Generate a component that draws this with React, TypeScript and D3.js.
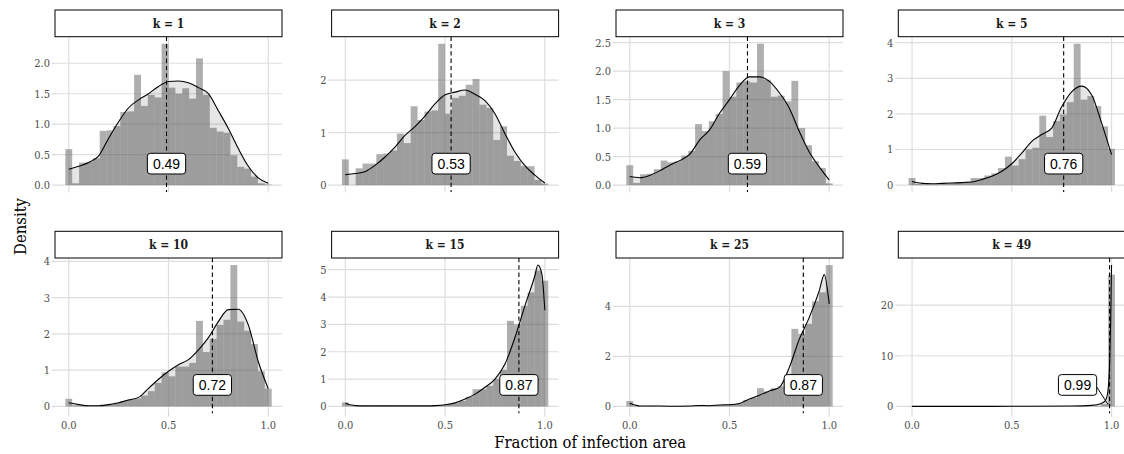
import React from 'react';
import * as d3 from 'd3';

// Histogram bins: 30 bins centred on 0, 1/29, ..., 1
const BIN_COUNT = 30;

const PANEL_LABELS = ['k = 1', 'k = 2', 'k = 3', 'k = 5', 'k = 10', 'k = 15', 'k = 25', 'k = 49'];
const MEANS = [0.49, 0.53, 0.59, 0.76, 0.72, 0.87, 0.87, 0.99];
const FRACTION_TICKS = [0, 0.5, 1];

const Y_TICKS = [
  [0, 0.5, 1, 1.5, 2],
  [0, 1, 2],
  [0, 0.5, 1, 1.5, 2, 2.5],
  [0, 1, 2, 3, 4],
  [0, 1, 2, 3, 4],
  [0, 1, 2, 3, 4, 5],
  [0, 2, 4],
  [0, 10, 20],
];

// Histogram densities per bin
const k1Hist = [0.59, 0.03, 0.37, 0.38, 0.44, 0.89, 0.9, 0.97, 1.2, 1.21, 1.81, 1.3, 1.48, 1.44, 2.32, 1.6, 1.5, 1.59, 1.42, 2.08, 1.48, 0.94, 0.88, 0.86, 0.49, 0.3, 0.27, 0.14, 0.03, 0.01];
const k2Hist = [0.49, 0.0, 0.32, 0.41, 0.41, 0.59, 0.6, 0.66, 0.98, 0.8, 1.5, 1.24, 1.4, 1.42, 2.69, 1.36, 1.66, 1.7, 1.91, 2.02, 1.53, 1.47, 0.86, 1.12, 0.56, 0.46, 0.36, 0.36, 0.1, 0.03];
const k3Hist = [0.35, 0.04, 0.19, 0.2, 0.28, 0.43, 0.4, 0.42, 0.52, 0.6, 1.07, 0.95, 1.12, 1.25, 2.0, 1.55, 1.8, 1.82, 1.8, 2.48, 1.85, 1.55, 1.57, 1.47, 1.83, 1.0, 0.7, 0.42, 0.3, 0.03];
const k5Hist = [0.2, 0.03, 0.02, 0.02, 0.03, 0.03, 0.05, 0.07, 0.1, 0.2, 0.2, 0.27, 0.33, 0.48, 0.8, 0.55, 0.73, 1.0, 1.05, 1.95, 1.35, 1.8, 1.98, 2.33, 3.97, 2.4, 2.5, 2.22, 1.65, 1.02];
const k10Hist = [0.21, 0.03, 0.02, 0.02, 0.03, 0.05, 0.05, 0.1, 0.15, 0.2, 0.22, 0.3, 0.42, 0.65, 0.94, 0.83, 1.1, 1.1, 1.2, 2.36, 1.5, 1.86, 2.25, 2.39, 3.9, 2.34, 2.09, 1.72, 0.97, 0.49];
const k15Hist = [0.15, 0.02, 0.01, 0.02, 0.01, 0.02, 0.02, 0.01, 0.02, 0.01, 0.02, 0.02, 0.02, 0.03, 0.05, 0.08, 0.12, 0.2, 0.35, 0.63, 0.63, 0.75, 1.0, 1.34, 3.13, 3.0, 3.68, 4.17, 4.96, 4.6];
const k25Hist = [0.22, 0.02, 0.01, 0.02, 0.01, 0.02, 0.01, 0.02, 0.02, 0.01, 0.03, 0.02, 0.03, 0.05, 0.06, 0.1, 0.12, 0.25, 0.35, 0.73, 0.6, 0.73, 0.8, 1.2, 3.1, 2.9, 3.3, 4.2, 4.56, 5.65];
const k49Hist = [0.05, 0.01, 0.01, 0.01, 0.01, 0.01, 0.01, 0.01, 0.01, 0.01, 0.01, 0.01, 0.01, 0.01, 0.01, 0.01, 0.01, 0.01, 0.01, 0.01, 0.01, 0.02, 0.02, 0.02, 0.03, 0.04, 0.05, 0.1, 0.45, 26.0];

// Kernel density estimates as [fraction, density]
const k1Density = [[0, 0.26], [0.05, 0.31], [0.1, 0.37], [0.15, 0.48], [0.2, 0.77], [0.25, 1.04], [0.3, 1.27], [0.35, 1.4], [0.4, 1.5], [0.45, 1.62], [0.5, 1.7], [0.55, 1.71], [0.6, 1.68], [0.65, 1.6], [0.7, 1.5], [0.75, 1.22], [0.8, 0.93], [0.85, 0.6], [0.9, 0.31], [0.95, 0.12], [1, 0.03]];
const k2Density = [[0, 0.2], [0.05, 0.22], [0.1, 0.26], [0.15, 0.38], [0.2, 0.54], [0.25, 0.73], [0.3, 0.95], [0.35, 1.12], [0.4, 1.32], [0.45, 1.55], [0.5, 1.72], [0.55, 1.77], [0.6, 1.81], [0.65, 1.73], [0.7, 1.61], [0.75, 1.36], [0.8, 0.98], [0.85, 0.63], [0.9, 0.37], [0.95, 0.19], [1, 0.04]];
const k3Density = [[0, 0.15], [0.05, 0.13], [0.1, 0.17], [0.15, 0.25], [0.2, 0.35], [0.25, 0.43], [0.3, 0.54], [0.35, 0.79], [0.4, 0.97], [0.45, 1.26], [0.5, 1.5], [0.55, 1.75], [0.6, 1.9], [0.65, 1.9], [0.7, 1.82], [0.75, 1.62], [0.8, 1.35], [0.85, 0.94], [0.9, 0.58], [0.95, 0.32], [1, 0.09]];
const k5Density = [[0, 0.1], [0.05, 0.05], [0.1, 0.04], [0.15, 0.05], [0.2, 0.06], [0.25, 0.07], [0.3, 0.09], [0.35, 0.16], [0.4, 0.25], [0.45, 0.39], [0.5, 0.6], [0.55, 0.9], [0.6, 1.23], [0.65, 1.42], [0.7, 1.6], [0.75, 2.2], [0.8, 2.62], [0.85, 2.78], [0.9, 2.54], [0.95, 1.75], [1, 0.86]];
const k10Density = [[0, 0.1], [0.05, 0.05], [0.1, 0.02], [0.15, 0.02], [0.2, 0.05], [0.25, 0.1], [0.3, 0.18], [0.35, 0.25], [0.4, 0.5], [0.45, 0.75], [0.5, 0.97], [0.55, 1.15], [0.6, 1.29], [0.65, 1.56], [0.7, 1.9], [0.75, 2.34], [0.8, 2.67], [0.85, 2.68], [0.9, 2.25], [0.95, 1.24], [1, 0.49]];
const k15Density = [[0, 0.12], [0.03, 0.05], [0.05, 0.03], [0.1, 0.02], [0.2, 0.02], [0.3, 0.02], [0.4, 0.02], [0.45, 0.03], [0.5, 0.06], [0.55, 0.13], [0.6, 0.27], [0.65, 0.45], [0.7, 0.7], [0.75, 1.0], [0.8, 1.55], [0.85, 2.52], [0.9, 3.68], [0.95, 4.78], [0.965, 5.17], [0.985, 4.84], [1, 3.52]];
const k25Density = [[0, 0.13], [0.03, 0.05], [0.05, 0.02], [0.1, 0.02], [0.2, 0.01], [0.3, 0.02], [0.35, 0.04], [0.4, 0.03], [0.45, 0.06], [0.5, 0.07], [0.55, 0.12], [0.6, 0.3], [0.65, 0.45], [0.7, 0.62], [0.75, 0.76], [0.8, 1.56], [0.85, 2.69], [0.9, 3.56], [0.95, 4.63], [0.975, 5.27], [1, 4.1]];
const k49Density = [[0, 0.02], [0.2, 0.01], [0.4, 0.02], [0.6, 0.03], [0.8, 0.08], [0.9, 0.2], [0.95, 0.6], [0.97, 1.2], [0.98, 2.5], [0.99, 8], [0.995, 16], [1, 27.9]];

const HISTS = [k1Hist, k2Hist, k3Hist, k5Hist, k10Hist, k15Hist, k25Hist, k49Hist];
const DENSITIES = [k1Density, k2Density, k3Density, k5Density, k10Density, k15Density, k25Density, k49Density];

// Facet layout
const COL_LEFT = [55, 331.6, 616, 898.3];
const ROW_STRIP_TOP = [10, 231.3];
const PANEL_W = 227;
const STRIP_H = 26.7;
const PANEL_H = 155.5;

const SERIF = "'DejaVu Serif Condensed', 'DejaVu Serif', serif";
const SANS = "'Liberation Sans', Arial, sans-serif";
const AXIS_GREY = '#4d4d4d';
const GRID = '#dedede';

const binWidth = 1 / (BIN_COUNT - 1);
const xLo = -binWidth / 2;
const xHi = 1 + binWidth / 2;
const xPad = 0.05 * (xHi - xLo);

function labelWidth(text: string, size: number) {
  let w = 0;
  for (const ch of text) w += ch === '.' ? 0.278 : 0.556;
  return w * size;
}

function Panel({ index }: { index: number }) {
  const row = Math.floor(index / 4);
  const col = index % 4;
  const left = COL_LEFT[col];
  const stripTop = ROW_STRIP_TOP[row];
  const top = stripTop + STRIP_H;
  const bottom = top + PANEL_H;
  const right = left + PANEL_W;

  const hist = HISTS[index];
  const dens = DENSITIES[index] as [number, number][];
  const mean = MEANS[index];
  const ticks = Y_TICKS[index];

  const x = d3.scaleLinear().domain([xLo - xPad, xHi + xPad]).range([left, right]);
  const yMax = Math.max(d3.max(hist) as number, d3.max(dens, (d) => d[1]) as number);
  const y = d3.scaleLinear().domain([-0.05 * yMax, 1.05 * yMax]).range([bottom, top]);

  const decimals = ticks.some((t) => !Number.isInteger(t));
  const fmt = decimals ? d3.format('.1f') : d3.format('d');

  const line = d3.line<[number, number]>().x((d) => x(d[0])).y((d) => y(d[1])).curve(d3.curveMonotoneX);
  const area = d3.area<[number, number]>().x((d) => x(d[0])).y0(y(0)).y1((d) => y(d[1])).curve(d3.curveMonotoneX);

  const clipId = `panel-clip-${index}`;

  // Mean label: boxed value anchored at (mean, 0), lifted above the baseline
  const labelText = d3.format('.2f')(mean);
  const lw = labelWidth(labelText, 14) + 11;
  const lh = 20.7;
  let cx = x(mean);
  const cy = y(0) - 21.5;
  const repelled = cx + lw / 2 > right - 6;
  if (repelled) cx = x(mean) - 32;

  return (
    <g>
      <defs>
        <clipPath id={clipId}>
          <rect x={left} y={top} width={PANEL_W} height={PANEL_H} />
        </clipPath>
      </defs>
      {/* grid */}
      {ticks.map((t) => (
        <line key={`h${t}`} x1={left} x2={right} y1={y(t)} y2={y(t)} stroke={GRID} strokeWidth={1.2} />
      ))}
      {FRACTION_TICKS.map((t) => (
        <line key={`v${t}`} x1={x(t)} x2={x(t)} y1={top} y2={bottom} stroke={GRID} strokeWidth={1.2} />
      ))}
      <g clipPath={`url(#${clipId})`}>
        {/* histogram */}
        {hist.map((v, i) => {
          const c = i * binWidth;
          return (
            <rect
              key={i}
              x={x(c - binWidth / 2)}
              width={x(c + binWidth / 2) - x(c - binWidth / 2)}
              y={y(v)}
              height={Math.max(0, y(0) - y(v))}
              fill="#606060"
              fillOpacity={0.5}
            />
          );
        })}
        {/* density */}
        <path d={area(dens) || ''} fill="#000" fillOpacity={0.1} />
        <path d={line(dens) || ''} fill="none" stroke="#000" strokeWidth={1.1} />
        {/* mean */}
        <line x1={x(mean)} x2={x(mean)} y1={top} y2={bottom} stroke="#000" strokeWidth={1.1} strokeDasharray="4.3,3" />
        {repelled && (
          <line x1={cx + lw / 2} y1={cy + 2} x2={x(mean) - 1.5} y2={y(0) - 2} stroke="#000" strokeWidth={1} />
        )}
        <rect x={cx - lw / 2} y={cy - lh / 2} width={lw} height={lh} rx={3} fill="#fff" stroke="#000" strokeWidth={1} />
        <text x={cx} y={cy} dy="0.36em" textAnchor="middle" fontFamily={SANS} fontSize={14} fill="#000">
          {labelText}
        </text>
      </g>
      {/* strip */}
      <rect x={left} y={stripTop} width={PANEL_W} height={STRIP_H} fill="#fff" stroke="#000" strokeWidth={1} />
      <text x={(left + right) / 2} y={stripTop + STRIP_H / 2} dy="0.36em" textAnchor="middle" fontFamily={SERIF} fontSize={12} fontWeight="bold" fill="#1a1a1a">
        {PANEL_LABELS[index]}
      </text>
      {/* y axis */}
      {ticks.map((t) => (
        <g key={`yt${t}`}>
          <line x1={left - 3} x2={left} y1={y(t)} y2={y(t)} stroke="#cfcfcf" strokeWidth={1} />
          <text x={left - 5} y={y(t)} dy="0.36em" textAnchor="end" fontFamily={SERIF} fontSize={11} fill={AXIS_GREY}>
            {fmt(t)}
          </text>
        </g>
      ))}
      {/* x axis on bottom row */}
      {row === 1 &&
        FRACTION_TICKS.map((t) => (
          <g key={`xt${t}`}>
            <line x1={x(t)} x2={x(t)} y1={bottom} y2={bottom + 3} stroke="#cfcfcf" strokeWidth={1} />
            <text x={x(t)} y={bottom + 15.5} textAnchor="middle" fontFamily={SERIF} fontSize={11} fill={AXIS_GREY}>
              {d3.format('.1f')(t)}
            </text>
          </g>
        ))}
    </g>
  );
}

export default function App() {
  const W = 1124;
  const H = 454;
  const panelsCenter = (COL_LEFT[0] + COL_LEFT[3] + PANEL_W) / 2;
  return (
    <svg width={W} height={H} style={{ position: 'absolute', left: 0, top: 0, background: '#fff' }}>
      <rect width={W} height={H} fill="#fff" />
      {PANEL_LABELS.map((_, i) => (
        <Panel key={i} index={i} />
      ))}
      <text x={panelsCenter} y={447.7} textAnchor="middle" fontFamily={SERIF} fontSize={16.5} fill="#000">
        Fraction of infection area
      </text>
      <text transform={`translate(25.5, 226.5) rotate(-90)`} textAnchor="middle" fontFamily={SERIF} fontSize={16.5} fill="#000">
        Density
      </text>
    </svg>
  );
}
